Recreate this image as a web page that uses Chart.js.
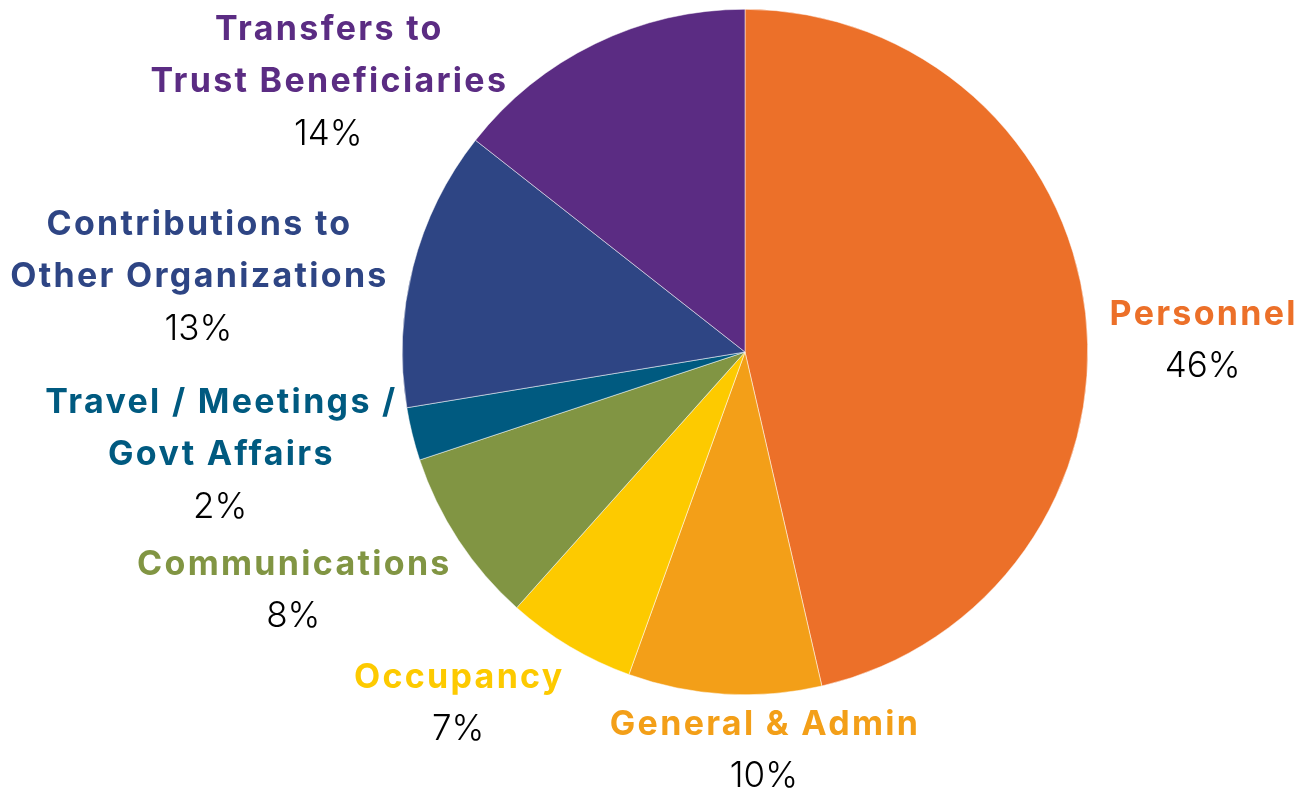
<!DOCTYPE html>
<html>
<head>
<meta charset="utf-8">
<script src="https://cdn.jsdelivr.net/npm/chart.js@4/dist/chart.umd.min.js"></script>
<style>
  html, body { margin: 0; padding: 0; background: #fff; }
  #wrap { width: 1305px; height: 794px; }
</style>
</head>
<body>
<div id="wrap"><canvas id="expenses"></canvas></div>
<script>
var categories = [
    ['Personnel'],
    ['General & Admin'],
    ['Occupancy'],
    ['Communications'],
    ['Travel / Meetings /', 'Govt Affairs'],
    ['Contributions to', 'Other Organizations'],
    ['Transfers to', 'Trust Beneficiaries']
]
var shares = [46.4, 9.1, 6.1, 8.3, 2.5, 13.2, 14.4]
var pctLabels = ['46%', '10%', '7%', '8%', '2%', '13%', '14%']
var colorHex = ['#EC7029', '#F39F18', '#FDCA00', '#819543', '#005A80', '#2E4584', '#5B2C83']

// where each label block sits, relative to pie centre, in units of radius
var labelAnchor = [
    [1.335, -0.108],
    [0.055, 1.087],
    [-0.837, 0.950],
    [-1.318, 0.621],
    [-1.531, 0.149],
    [-1.595, -0.370],
    [-1.216, -0.939]
]

var outsideLabels = {
    id: 'outsideLabels',
    afterDraw: function (chart) {
        var ctx = chart.ctx
        var arc = chart.getDatasetMeta(0).data[0]
        var cx = arc.x, cy = arc.y, r = arc.outerRadius
        var sp = 2.3
        ctx.save()
        ctx.textAlign = 'center'
        ctx.textBaseline = 'middle'
        categories.forEach(function (lines, i) {
            var x = cx + labelAnchor[i][0] * r
            var y = cy + labelAnchor[i][1] * r
            ctx.fillStyle = colorHex[i]
            ctx.font = '700 34px Inter'
            ctx.letterSpacing = sp + 'px'
            lines.forEach(function (t, j) {
                ctx.fillText(t, x + sp / 2, y + j * 52)
            })
            ctx.fillStyle = '#000'
            ctx.font = '300 35px Inter'
            ctx.letterSpacing = '0px'
            ctx.fillText(pctLabels[i], x, y + lines.length * 52)
        })
        ctx.restore()
    }
}

var ctx = document.getElementById('expenses').getContext('2d')
var chart = new Chart(ctx, {
    type: 'pie',
    data: {
        labels: categories.map(function (l) { return l.join(' ') }),
        datasets: [{
            data: shares,
            backgroundColor: colorHex,
            borderColor: '#ffffff',
            borderWidth: 0.5
        }]
    },
    options: {
        responsive: true,
        maintainAspectRatio: false,
        animation: false,
        layout: { padding: { left: 402, right: 217, top: 9, bottom: 99 } },
        plugins: {
            legend: { display: false },
            tooltip: { enabled: false }
        }
    },
    plugins: [outsideLabels]
})
</script>
</body>
</html>
